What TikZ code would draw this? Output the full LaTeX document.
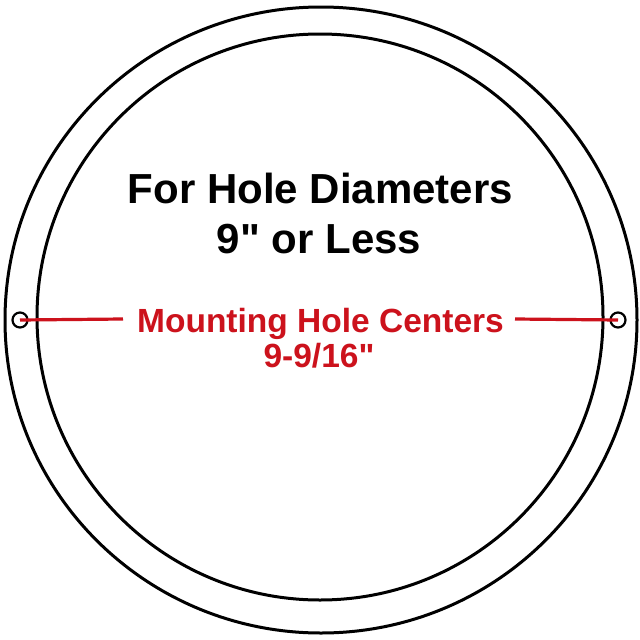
\documentclass[tikz,border=0pt]{standalone}
\usepackage{fontspec}
\setmainfont{Liberation Sans}[Ligatures=TeXOff]
\definecolor{mred}{RGB}{204,18,28}
\begin{document}
\begin{tikzpicture}[x=1pt,y=-1pt,
  ring/.style={draw=black,line width=3pt},
  hole/.style={circle,draw=black,line width=2.2pt,minimum size=15pt,inner sep=0pt},
  redline/.style={draw=mred,line width=3.2pt},
  blacktext/.style={anchor=base,inner sep=0pt,font=\fontsize{42}{50}\selectfont\bfseries,text=black},
  redtext/.style={anchor=base,inner sep=0pt,font=\fontsize{33.5}{40}\selectfont\bfseries,text=mred}]
\useasboundingbox[fill=white] (0,0) rectangle (640,640);
\draw[ring] (321,320) ellipse [x radius=316,y radius=313];
\draw[ring] (320,317) circle [radius=283];
\node[blacktext] (t1) at (320.5,203) {For Hole Diameters};
\node[blacktext] (t2) at (319,253) {9" or Less};
\node[redtext] (r1) at (320.5,332) {Mounting Hole Centers};
\node[redtext] (r2) at (319,367) {9-9/16"};
\node[hole] (holeL) at (20,320) {};
\node[hole] (holeR) at (618,320) {};
\coordinate (endL) at (123,319);
\coordinate (endR) at (515,319);
\draw[redline] (holeL.center) -- (endL);
\draw[redline] (endR) -- (holeR.center);
\end{tikzpicture}
\end{document}
